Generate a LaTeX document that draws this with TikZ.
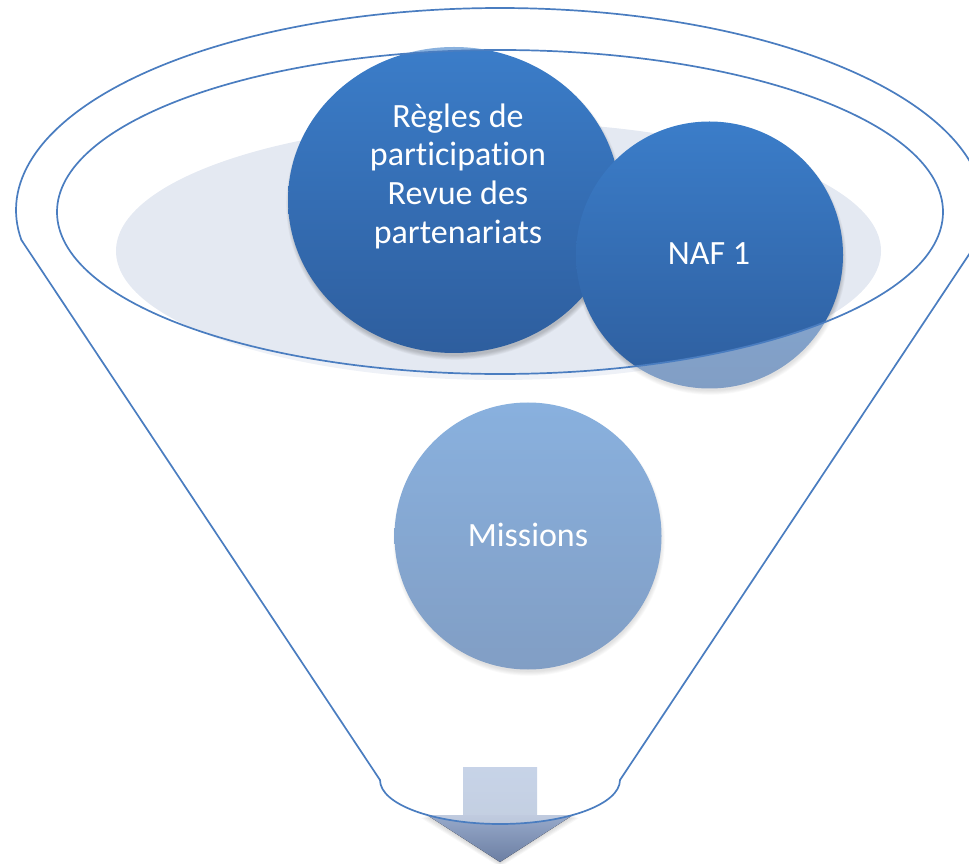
\documentclass[tikz,border=0pt]{standalone}
\usepackage{fontspec}
\setmainfont{Carlito}[Ligatures=NoCommon]
\usetikzlibrary{shapes.geometric,calc}
\definecolor{funline}{HTML}{4A7DC0}
\definecolor{lightell}{HTML}{E4E9F2}
\definecolor{ctop}{HTML}{3B7DC9}
\definecolor{cbot}{HTML}{2E5E9E}
\definecolor{shafttop}{HTML}{A2B7D9}
\definecolor{shaftbot}{HTML}{9DB0CF}
\definecolor{headtop}{HTML}{97A9CA}
\definecolor{headbot}{HTML}{6C7FA3}
\begin{document}
\begin{tikzpicture}[x=1pt,y=1pt,
  bubble/.style={circle, inner sep=0pt, minimum size=267pt, top color=ctop, bottom color=cbot, draw=none},
  bigbubble/.style={ellipse, inner sep=0pt, minimum width=332pt, minimum height=306pt, top color=ctop, bottom color=cbot, draw=none},
  lbl/.style={text=white, font=\fontsize{34}{38.7}\selectfont, align=center, inner sep=0pt},
  funnel/.style={draw=funline, line width=1.7pt},
  softshadow/.style={fill=black, fill opacity=0.035}]
\useasboundingbox (0,0) rectangle (969,863);
\clip (0,0) rectangle (969,863);

% light disc in the funnel mouth
\fill[lightell] (498.5,612) ellipse[x radius=382.5, y radius=129];

% soft shadows
\foreach \k in {1,...,6} {
  \fill[softshadow] (455,659) ellipse[x radius={164+\k*0.8}, y radius={151+\k*0.8}];
  \fill[softshadow] (710.5,604) circle[radius={131+\k*0.8}];
  \fill[softshadow] (529,323) circle[radius={131+\k*0.8}];
}

% bubbles
\node[bigbubble] (regles) at (454,663) {};
\node[bubble] (naf) at (709.5,608) {};
\node[bubble] (missions) at (528,327) {};

% arrow
\coordinate (shaftTL) at (463,96);
\coordinate (shaftBR) at (537,47);
\coordinate (headL) at (427,48);
\coordinate (headR) at (573,48);
\coordinate (headT) at (500,1);
\foreach \k in {1,...,5} {
  \fill[black, fill opacity=0.03] ($(headL)+(-\k*1.2,-\k*0.6)$) -- ($(headR)+(\k*1.2,-\k*0.6)$) -- ($(headT)+(0,-\k)$) -- cycle;
}
\fill[top color=shafttop, bottom color=shaftbot] (shaftTL) rectangle (shaftBR);
\fill[top color=headtop, bottom color=headbot] (headL) -- (headR) -- (headT) -- cycle;

% translucent funnel body
\fill[white, fill opacity=0.4, even odd rule]
  (21.4,623) -- (380,83) arc[start angle=180, end angle=360, x radius=120, y radius=44]
  -- (978.6,623) arc[start angle=-8.54, end angle=188.54, x radius=484, y radius=202] -- cycle
  (500,651) ellipse[x radius=443, y radius=162];

% outlines
\draw[funnel] (500,651) ellipse[x radius=443, y radius=162];
\draw[funnel, line join=round]
  (21.4,623) -- (380,83) arc[start angle=180, end angle=360, x radius=120, y radius=44]
  -- (978.6,623) arc[start angle=-8.54, end angle=188.54, x radius=484, y radius=202] -- cycle;

% labels
\node[lbl] (reglesT) at (458,687) {Règles de\\participation\\Revue des\\partenariats};
\node[lbl, anchor=base] (nafT) at (709,598) {NAF 1};
\node[lbl, anchor=base] (missionsT) at (528,316.3) {Missions};
\end{tikzpicture}
\end{document}
